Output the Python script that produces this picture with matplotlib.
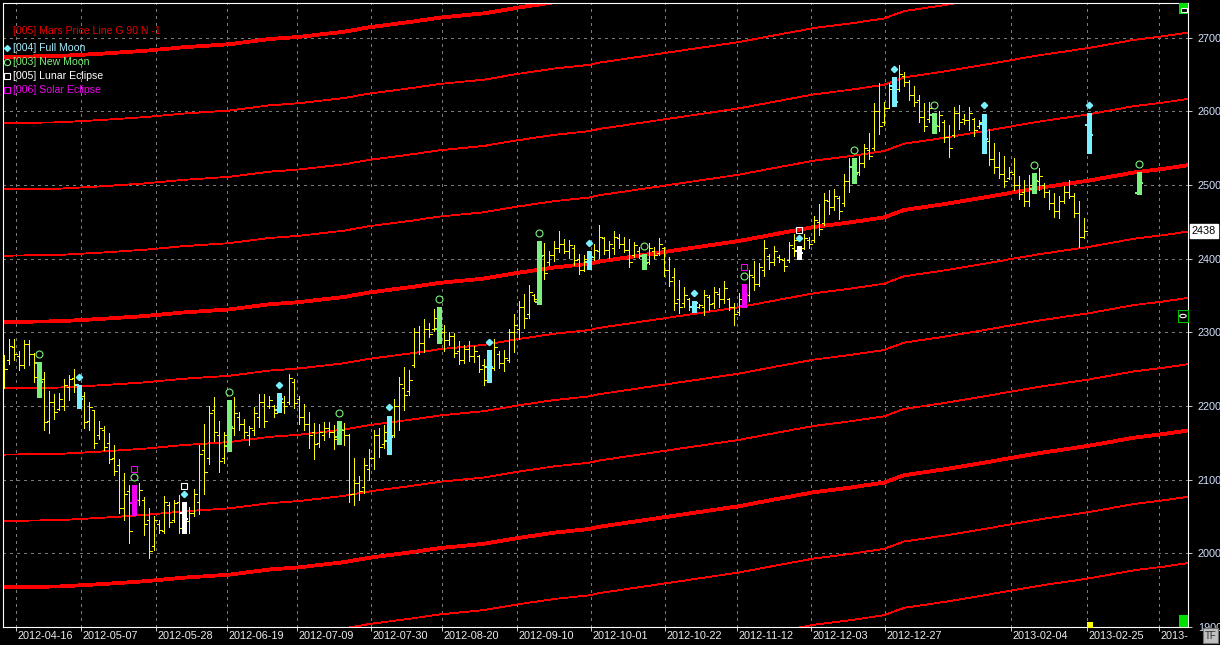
import matplotlib
matplotlib.use("Agg")
import matplotlib.pyplot as plt
from matplotlib.patches import Rectangle, Circle

# ---- daily bars (index = trading day) ----
highs = [
    2269, 2291, 2291, 2274, 2290, 2289, 2272, 2260, 2246, 2220,
    2216, 2217, 2236, 2242, 2250, 2229, 2219, 2206, 2195, 2180,
    2173, 2163, 2147, 2128, 2109, 2093, 2093, 2096, 2077, 2061,
    2050, 2045, 2078, 2069, 2072, 2079, 2069, 2063, 2087, 2147,
    2175, 2200, 2212, 2179, 2165, 2208, 2212, 2192, 2182, 2173,
    2199, 2216, 2216, 2213, 2201, 2218, 2213, 2243, 2237, 2214,
    2203, 2192, 2177, 2176, 2178, 2178, 2174, 2179, 2177, 2162,
    2130, 2105, 2130, 2141, 2167, 2170, 2174, 2187, 2210, 2239,
    2253, 2249, 2306, 2309, 2318, 2312, 2331, 2334, 2310, 2301,
    2299, 2288, 2283, 2288, 2281, 2269, 2264, 2276, 2291, 2275,
    2276, 2305, 2325, 2343, 2352, 2364, 2352, 2424, 2421, 2410,
    2424, 2438, 2427, 2425, 2419, 2406, 2405, 2410, 2420, 2446,
    2430, 2424, 2438, 2433, 2429, 2426, 2423, 2416, 2406, 2421,
    2416, 2428, 2416, 2402, 2387, 2371, 2361, 2346, 2342, 2339,
    2358, 2351, 2361, 2360, 2369, 2346, 2340, 2353, 2366, 2385,
    2397, 2394, 2425, 2406, 2417, 2405, 2401, 2423, 2434, 2417,
    2434, 2429, 2458, 2474, 2489, 2493, 2494, 2485, 2515, 2536,
    2536, 2540, 2556, 2570, 2611, 2638, 2613, 2639, 2647, 2663,
    2653, 2643, 2635, 2622, 2611, 2612, 2598, 2601, 2588, 2582,
    2606, 2609, 2597, 2606, 2591, 2588, 2597, 2576, 2557, 2545,
    2539, 2525, 2536, 2512, 2507, 2514, 2516, 2523, 2502, 2493,
    2489, 2485, 2498, 2507, 2489, 2478, 2455]
lows = [
    2224, 2257, 2262, 2249, 2251, 2256, 2233, 2212, 2168, 2164,
    2183, 2195, 2194, 2208, 2219, 2197, 2170, 2167, 2143, 2155,
    2140, 2122, 2106, 2055, 2045, 2014, 2052, 2066, 2025, 1993,
    2005, 2027, 2027, 2036, 2043, 2028, 2028, 2027, 2050, 2054,
    2081, 2121, 2152, 2110, 2122, 2139, 2161, 2167, 2156, 2147,
    2161, 2171, 2172, 2197, 2185, 2192, 2191, 2203, 2197, 2175,
    2167, 2143, 2128, 2145, 2154, 2158, 2141, 2149, 2147, 2070,
    2066, 2072, 2082, 2100, 2114, 2131, 2143, 2135, 2158, 2167,
    2194, 2215, 2253, 2271, 2273, 2293, 2302, 2285, 2275, 2283,
    2266, 2257, 2258, 2261, 2260, 2246, 2228, 2233, 2249, 2251,
    2247, 2260, 2273, 2291, 2306, 2320, 2342, 2338, 2372, 2392,
    2397, 2409, 2407, 2401, 2392, 2379, 2383, 2386, 2398, 2401,
    2406, 2401, 2406, 2414, 2409, 2388, 2402, 2401, 2386, 2393,
    2401, 2405, 2376, 2363, 2330, 2326, 2335, 2330, 2327, 2333,
    2324, 2330, 2333, 2335, 2340, 2330, 2310, 2324, 2334, 2342,
    2357, 2363, 2377, 2386, 2392, 2396, 2383, 2396, 2403, 2399,
    2413, 2414, 2422, 2432, 2446, 2461, 2466, 2454, 2472, 2490,
    2503, 2513, 2524, 2535, 2548, 2569, 2582, 2604, 2607, 2627,
    2634, 2615, 2607, 2586, 2573, 2586, 2571, 2573, 2558, 2538,
    2565, 2576, 2583, 2575, 2567, 2577, 2543, 2527, 2516, 2509,
    2497, 2508, 2493, 2481, 2471, 2471, 2489, 2493, 2484, 2467,
    2457, 2455, 2475, 2482, 2457, 2416, 2428]
opens = [
    2266, 2262, 2280, 2268, 2256, 2284, 2270, 2258, 2236, 2180,
    2205, 2196, 2200, 2226, 2238, 2228, 2214, 2180, 2194, 2160,
    2168, 2150, 2130, 2120, 2062, 2085, 2068, 2072, 2072, 2045,
    2010, 2040, 2030, 2066, 2045, 2070, 2055, 2044, 2055, 2070,
    2140, 2130, 2195, 2160, 2130, 2146, 2170, 2185, 2175, 2160,
    2168, 2185, 2205, 2200, 2200, 2195, 2205, 2205, 2232, 2210,
    2185, 2175, 2165, 2150, 2160, 2170, 2165, 2158, 2168, 2160,
    2080, 2095, 2090, 2115, 2130, 2160, 2148, 2152, 2160, 2200,
    2225, 2220, 2255, 2300, 2285, 2305, 2305, 2305, 2300, 2290,
    2295, 2275, 2262, 2278, 2268, 2268, 2255, 2253, 2252, 2270,
    2258, 2262, 2300, 2305, 2335, 2325, 2350, 2341, 2405, 2395,
    2405, 2415, 2420, 2410, 2415, 2400, 2385, 2395, 2402, 2410,
    2428, 2412, 2415, 2428, 2420, 2412, 2405, 2410, 2403, 2395,
    2410, 2408, 2415, 2385, 2375, 2345, 2340, 2345, 2335, 2335,
    2335, 2348, 2340, 2352, 2345, 2345, 2335, 2328, 2336, 2350,
    2375, 2365, 2385, 2404, 2395, 2402, 2398, 2398, 2415, 2410,
    2415, 2425, 2425, 2450, 2448, 2478, 2470, 2482, 2475, 2505,
    2525, 2518, 2530, 2548, 2550, 2600, 2585, 2605, 2635, 2630,
    2648, 2640, 2622, 2615, 2592, 2590, 2595, 2580, 2585, 2565,
    2568, 2598, 2590, 2588, 2590, 2580, 2583, 2560, 2535, 2525,
    2515, 2510, 2515, 2500, 2490, 2478, 2495, 2505, 2500, 2490,
    2475, 2465, 2478, 2490, 2485, 2462, 2430]
closes = [
    2250, 2282, 2270, 2256, 2284, 2270, 2240, 2232, 2178, 2206,
    2192, 2210, 2228, 2236, 2230, 2210, 2178, 2198, 2150, 2170,
    2145, 2128, 2112, 2062, 2080, 2030, 2073, 2086, 2040, 2003,
    2045, 2032, 2070, 2042, 2068, 2035, 2046, 2055, 2080, 2135,
    2110, 2190, 2165, 2125, 2160, 2171, 2190, 2175, 2165, 2170,
    2190, 2205, 2180, 2208, 2190, 2210, 2200, 2238, 2204, 2185,
    2175, 2160, 2148, 2165, 2170, 2165, 2155, 2168, 2160, 2080,
    2095, 2085, 2120, 2130, 2160, 2145, 2165, 2158, 2200, 2230,
    2215, 2235, 2300, 2285, 2305, 2298, 2320, 2305, 2290, 2295,
    2272, 2262, 2278, 2268, 2275, 2250, 2235, 2253, 2280, 2258,
    2265, 2300, 2310, 2335, 2320, 2355, 2345, 2404, 2380, 2405,
    2415, 2420, 2410, 2418, 2398, 2385, 2400, 2402, 2412, 2430,
    2412, 2420, 2430, 2420, 2412, 2395, 2418, 2405, 2394, 2415,
    2405, 2420, 2385, 2370, 2340, 2335, 2350, 2335, 2340, 2337,
    2350, 2338, 2355, 2345, 2360, 2335, 2325, 2345, 2351, 2378,
    2365, 2388, 2415, 2395, 2410, 2400, 2390, 2418, 2425, 2408,
    2428, 2420, 2452, 2440, 2480, 2470, 2485, 2465, 2505, 2525,
    2515, 2530, 2550, 2540, 2600, 2580, 2605, 2630, 2612, 2650,
    2640, 2622, 2612, 2592, 2580, 2605, 2580, 2595, 2565, 2550,
    2598, 2585, 2588, 2598, 2575, 2585, 2562, 2535, 2525, 2515,
    2505, 2518, 2500, 2488, 2478, 2500, 2505, 2512, 2490, 2475,
    2465, 2478, 2490, 2485, 2462, 2430, 2438]

# moon / eclipse days (bar index)
full_idx = [15, 55, 77, 97, 117, 138, 178, 196]
new_idx = [7, 45, 67, 87, 107, 128, 170, 186, 206]
lunar_idx = [36, 159]
solar_idx = [26, 148]

# projected marker bars after the last quote
fut_idx = [217, 227]
fut_kind = ["full", "new"]
fut_open = [2582, 2489]
fut_high = [2598, 2517]
fut_low = [2544, 2488]
fut_close = [2568, 2503]

last_price = 2438

# Mars price line (base curve)
mars_idx = [0, 11, 19, 28, 36, 45, 53, 59, 68, 73, 82, 87, 96, 103, 110, 117,
            119, 133, 147, 154, 162, 169, 176, 180, 188, 196, 201, 207, 217,
            226, 232, 237]
mars_base = [2314, 2315, 2318, 2322, 2327, 2331, 2338, 2341, 2348, 2354, 2362,
             2367, 2373, 2381, 2388, 2393, 2396, 2410, 2424, 2433, 2443, 2449,
             2456, 2466, 2474, 2483, 2489, 2496, 2506, 2517, 2522, 2527]
mars_steps = [-6, -5, -4, -3, -2, -1, 0, 1, 2, 3, 4]
mars_gap = 90

tick_pos = [2.4, 15.4, 30.4, 44.6, 58.6, 73.4, 87.6, 102.6, 117.4, 132.2,
            146.6, 161.4, 176.2, 201.4, 216.6, 231]
tick_labels = ["2012-04-16", "2012-05-07", "2012-05-28", "2012-06-19",
               "2012-07-09", "2012-07-30", "2012-08-20", "2012-09-10",
               "2012-10-01", "2012-10-22", "2012-11-12", "2012-12-03",
               "2012-12-27", "2013-02-04", "2013-02-25", "2013-"]
price_ticks = [1900, 2000, 2100, 2200, 2300, 2400, 2500, 2600, 2700]

YELLOW = "#ffff00"
CYAN = "#78f0ff"
GREEN = "#7cf07c"
WHITE = "#ffffff"
MAGENTA = "#f000f0"
RED = "#ff0000"
GRID = "#7a7a7a"

plt.rcParams["font.family"] = ["Liberation Sans", "DejaVu Sans"]

W, H = 1220, 645
fig = plt.figure(figsize=(W / 100, H / 100), dpi=100, facecolor="black")
ax = fig.add_axes([3 / W, 18 / H, 1185 / W, 624 / H], facecolor="black")
ax.set_xlim(-0.2, 236.8)
ax.set_ylim(1900, 2747)

# grid
for p in price_ticks[1:]:
    ax.axhline(p, color=GRID, lw=0.7, ls=(0, (3, 5)), antialiased=False, zorder=1)
for t in tick_pos:
    ax.axvline(t, color=GRID, lw=0.7, ls=(0, (3, 5)), antialiased=False, zorder=1)

# Mars price lines
for k in mars_steps:
    lw = 2.0 if k % 4 == 0 else 0.6
    ax.plot(mars_idx, [b + k * mars_gap for b in mars_base], color=RED, lw=lw,
            antialiased=False, zorder=2)

# regular bars
special = set(full_idx + new_idx + lunar_idx + solar_idx)
for i in range(len(highs)):
    if i in special:
        continue
    ax.vlines(i, lows[i], highs[i], color=YELLOW, lw=0.7, antialiased=False, zorder=4)
    ax.hlines(opens[i], i - 0.5, i, color=YELLOW, lw=0.7, antialiased=False, zorder=4)
    ax.hlines(closes[i], i, i + 0.5, color=YELLOW, lw=0.7, antialiased=False, zorder=4)


def fat_bar(i, o, h, l, c, color):
    ax.vlines(i, l, h, color=color, lw=2.2, antialiased=False, zorder=5)
    ax.hlines(o, i - 0.8, i, color=color, lw=1.4, antialiased=False, zorder=5)
    ax.hlines(c, i, i + 0.8, color=color, lw=1.4, antialiased=False, zorder=5)


def moon_mark(i, h, kind):
    if kind == "full":
        ax.plot(i, h + 11, marker="D", ms=3.2, color=CYAN, mec=CYAN, zorder=6)
    else:
        ax.plot(i, h + 11, marker="o", ms=5, mfc="none", mec=GREEN, mew=0.8, zorder=6)


for i in full_idx:
    fat_bar(i, opens[i], highs[i], lows[i], closes[i], CYAN)
    moon_mark(i, highs[i], "full")
for i in new_idx:
    fat_bar(i, opens[i], highs[i], lows[i], closes[i], GREEN)
    moon_mark(i, highs[i], "new")
for i in lunar_idx:
    fat_bar(i, opens[i], highs[i], lows[i], closes[i], WHITE)
    moon_mark(i, highs[i], "full")
    ax.plot(i, highs[i] + 22, marker="s", ms=5, mfc="none", mec=WHITE, mew=0.8, zorder=6)
for i in solar_idx:
    fat_bar(i, opens[i], highs[i], lows[i], closes[i], MAGENTA)
    moon_mark(i, highs[i], "new")
    ax.plot(i, highs[i] + 22, marker="s", ms=5, mfc="none", mec=MAGENTA, mew=0.8, zorder=6)
for j, i in enumerate(fut_idx):
    col = CYAN if fut_kind[j] == "full" else GREEN
    fat_bar(i, fut_open[j], fut_high[j], fut_low[j], fut_close[j], col)
    moon_mark(i, fut_high[j], fut_kind[j])

# axes styling
for s in ax.spines.values():
    s.set_color("white")
    s.set_linewidth(0.8)
ax.set_xticks(tick_pos)
ax.set_xticklabels([])
ax.tick_params(axis="x", direction="out", length=3, width=0.7, color="#d0d0d0")
for t, lab in zip(tick_pos, tick_labels):
    ax.text(t + 0.25, -0.0145, lab, transform=ax.get_xaxis_transform(),
            color="#ececec", fontsize=7.8, ha="left", va="center", clip_on=False)
ax.yaxis.tick_right()
ax.set_yticks(price_ticks)
ax.set_yticklabels([str(p) for p in price_ticks])
ax.tick_params(axis="y", direction="out", length=3, width=0.7, color="#c8c8c8",
               pad=4, labelsize=7.8, labelcolor="#d4e2ff")

# legend block
fig.text(13 / W, 1 - 31 / H, "[005] Mars Price Line G 90 N -1", color="#e80000",
         fontsize=7.6, va="center")
legend_rows = [("[004] Full Moon", "#a8ecff", 48), ("[003] New Moon", GREEN, 62),
               ("[005] Lunar Eclipse", WHITE, 76), ("[006] Solar Eclipse", MAGENTA, 90)]
for txt, col, yy in legend_rows:
    fig.text(13 / W, 1 - yy / H, txt, color=col, fontsize=7.6, va="center")
fig.lines.append(plt.Line2D([6.5 / W], [1 - 48 / H], marker="D", ms=3, color=CYAN,
                            transform=fig.transFigure))
fig.lines.append(plt.Line2D([6.5 / W], [1 - 62 / H], marker="o", ms=4.5, mfc="none",
                            mec=GREEN, mew=0.8, transform=fig.transFigure))
fig.lines.append(plt.Line2D([6.5 / W], [1 - 76 / H], marker="s", ms=4.5, mfc="none",
                            mec=WHITE, mew=0.8, transform=fig.transFigure))
fig.lines.append(plt.Line2D([6.5 / W], [1 - 90 / H], marker="s", ms=4.5, mfc="none",
                            mec=MAGENTA, mew=0.8, transform=fig.transFigure))

# last price tag and small widgets
fig.text(1192 / W, 1 - 231 / H, str(last_price), color="black", fontsize=7.8,
         va="center", ha="left",
         bbox=dict(boxstyle="square,pad=0.2", fc="white", ec="white"))


def px_rect(x0, y0, w, h, **kw):
    fig.add_artist(Rectangle((x0 / W, 1 - (y0 + h) / H), w / W, h / H,
                             transform=fig.transFigure, **kw))


px_rect(1179, 3, 9, 11, fc="#00e000", ec="none")
px_rect(1180.5, 8, 6, 4, fc="black", ec="white", lw=0.8)
px_rect(1179, 615, 9, 12, fc="#00e000", ec="none")
px_rect(1178, 310, 10, 12, fc="black", ec="#00c000", lw=0.8)
fig.add_artist(Circle((1183 / W, 1 - 316 / H), 3.2 / W, transform=fig.transFigure,
                      fc="none", ec="white", lw=0.8))
px_rect(1087, 622, 6, 6, fc=YELLOW, ec="none")
px_rect(1203, 628, 15, 15, fc="#c0c0c0", ec="#707070", lw=0.8)
fig.text(1210.5 / W, 1 - 636 / H, "TF", color="#303030", fontsize=7,
         ha="center", va="center")

fig.savefig("out.png", dpi=100, facecolor="black")
